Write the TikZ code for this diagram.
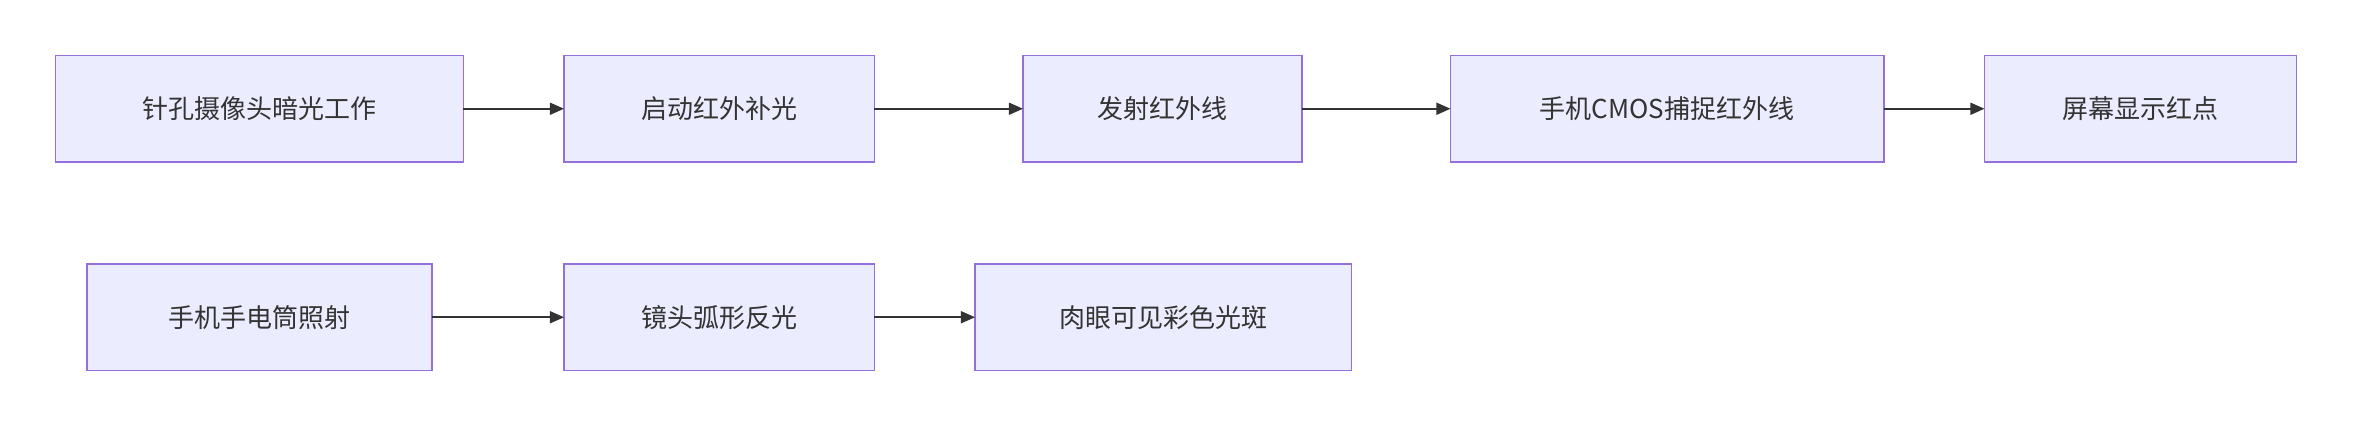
\documentclass[tikz,border=0pt]{standalone}
\usepackage{fontspec}
\setmainfont{Noto Sans CJK SC}
\usetikzlibrary{arrows.meta}
\definecolor{boxfill}{HTML}{ECECFF}
\definecolor{boxline}{HTML}{9370DB}
\definecolor{arr}{HTML}{333333}
\begin{document}
\begin{tikzpicture}[x=1.5pt,y=-1.5pt,
  bx/.style={draw=boxline,fill=boxfill,line width=1.5pt},
  lbl/.style={font=\fontsize{26}{30}\selectfont,text=arr},
  ar/.style={draw=arr,line width=1.6pt,-{Triangle[length=14pt,width=12pt]}}]
\useasboundingbox (0,0) rectangle (1568.7,285.3);
\newcommand{\bxx}[6]{\draw[bx] (#2,#3) rectangle (#4,#5);
  \node[lbl] (#1) at ({(#2+#4)/2},{(#3+#5)/2}) {#6};
  \coordinate (#1L) at (#2,{(#3+#5)/2}); \coordinate (#1R) at (#4,{(#3+#5)/2});}
\bxx{a}{37}{37}{309}{108}{针孔摄像头暗光工作}
\bxx{b}{376}{37}{583}{108}{启动红外补光}
\bxx{c}{682}{37}{868}{108}{发射红外线}
\bxx{d}{967}{37}{1256}{108}{手机CMOS捕捉红外线}
\bxx{e}{1323}{37}{1531}{108}{屏幕显示红点}
\bxx{f}{58}{176}{288}{247}{手机手电筒照射}
\bxx{g}{376}{176}{583}{247}{镜头弧形反光}
\bxx{h}{650}{176}{901}{247}{肉眼可见彩色光斑}
\draw[ar] (aR) -- (bL);
\draw[ar] (bR) -- (cL);
\draw[ar] (cR) -- (dL);
\draw[ar] (dR) -- (eL);
\draw[ar] (fR) -- (gL);
\draw[ar] (gR) -- (hL);
\end{tikzpicture}
\end{document}
